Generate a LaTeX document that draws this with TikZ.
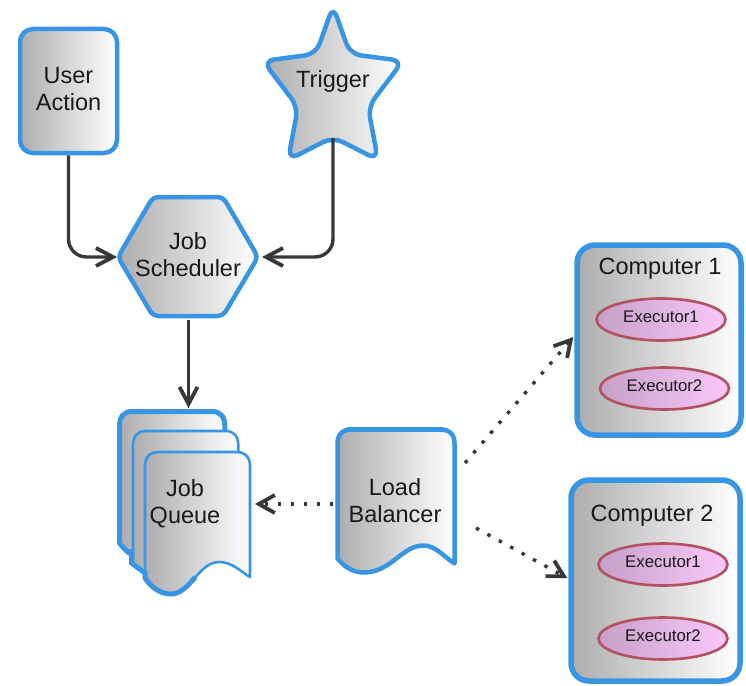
\documentclass[tikz,border=0pt]{standalone}
\usepackage{fontspec}
\setmainfont{Liberation Sans}
\usetikzlibrary{arrows.meta,shapes.geometric}
\definecolor{edgeblue}{HTML}{3895E4}
\definecolor{ink}{HTML}{18191C}
\definecolor{linegray}{HTML}{383838}
\definecolor{steel}{HTML}{ADADAD}
\definecolor{rosedge}{HTML}{B0525F}
\definecolor{mauve}{HTML}{C69FC8}
\definecolor{pinkish}{HTML}{FAC8FA}
\newcommand{\docoutline}{(0,129) -- (0,14) .. controls (0,5) and (5,0) .. (14,0) -- (103,0) .. controls (112,0) and (117,5) .. (117,14) -- (117,134) .. controls (106,127) and (98,116) .. (86,116) .. controls (64,116) and (54,143) .. (26,143) .. controls (14,143) and (6,136) .. cycle}
\tikzset{
  box/.style={left color=steel,right color=white,draw=edgeblue,line width=4.5pt,line join=round},
  caption/.style={text=ink,align=center,inner sep=0pt,font=\fontsize{23.5}{27}\selectfont},
  compbox/.style={box,line width=5.5pt,rounded corners=18pt,minimum width=164pt,inner sep=0pt},
  exec/.style={ellipse,draw=rosedge,line width=2.6pt,left color=mauve,right color=pinkish,minimum width=129pt,minimum height=42pt,inner sep=0pt,text=ink,text depth=5pt,font=\fontsize{16.8}{20}\selectfont},
  flow/.style={draw=linegray,line width=3.4pt,rounded corners=18pt,-{Straight Barb[length=17pt,width=18pt,line width=3.8pt]}},
  dotflow/.style={draw=linegray,line width=3.4pt,dash pattern=on 3.5pt off 9.5pt,-{Straight Barb[length=16pt,width=18pt,line width=3.8pt]}}
}
\begin{document}
\begin{tikzpicture}[x=1pt,y=-1pt]
\useasboundingbox (0,0) rectangle (746,685);
% shapes
\node[box,rounded corners=13pt,minimum width=97pt,minimum height=124pt,inner sep=0pt] (user) at (68.5,91) {};
\path[box,rounded corners=11pt] (333,6) -- (350,54) -- (403,61) -- (368,107) -- (378,160) -- (333,137) -- (288,160) -- (298,107) -- (263,61) -- (316,54) -- cycle;
\path[box,rounded corners=5pt] (118,257) -- (153,197) -- (223,197) -- (258,257) -- (223,316) -- (153,316) -- cycle;
% job queue stack
\path[box,line width=5pt,shift={(119.5,411.5)},xscale=0.9,yscale=1.02] \docoutline;
\path[box,line width=2.6pt,shift={(133,431)},xscale=0.9,yscale=1.02] \docoutline;
\path[draw=edgeblue,line width=5pt] (131.5,549) -- (131.5,563) -- (145,573);
\path[box,line width=2.6pt] (145,578) -- (145,466) .. controls (145,457) and (150,452) .. (159,452) -- (236,452) .. controls (245,452) and (250,457) .. (250,466) -- (250,577) .. controls (240,571) and (232,562) .. (219,562) .. controls (199,562) and (190,594) .. (171,594) .. controls (160,594) and (151,587) .. cycle;
\path[draw=edgeblue,line width=5pt,line cap=round] (145,572) -- (145,578) .. controls (151,587) and (160,594) .. (171,594) .. controls (180.5,594) and (187.5,586) .. (194.6,578);
% load balancer
\path[box,shift={(337.5,429.5)}] \docoutline;
\path[draw=edgeblue,line width=5.5pt] (347,429.5) -- (444,429.5);
% computers
\node[compbox,minimum height=190pt] (c1) at (659,340) {};
\node[compbox,minimum width=169pt,minimum height=201pt] (c2) at (655.5,580.5) {};
\node[exec] (e11) at (661,319.5) {Executor1};
\node[exec] (e12) at (664.5,388.5) {Executor2};
\node[exec] (e21) at (663,564.5) {Executor1};
\node[exec] (e22) at (663,638.5) {Executor2};
% captions
\node[caption] (usertext) at (68.5,89) {User\\Action};
\node[caption] (trigtext) at (333,81.5) {Trigger};
\node[caption] (schedtext) at (188,255) {Job\\Scheduler};
\node[caption] (queuetext) at (185,503.5) {Job\\Queue};
\node[caption] (lbtext) at (395,500.5) {Load\\Balancer};
\node[caption] (c1text) at (660,269) {Computer 1};
\node[caption] (c2text) at (652,516) {Computer 2};
% connection points on drawn outlines
\coordinate (trigfoot) at (333,138);
\coordinate (schedW) at (117,257);
\coordinate (schedE) at (262,257);
\coordinate (schedS) at (188.5,320);
\coordinate (queueN) at (188.5,408);
\coordinate (queueE) at (255,504);
\coordinate (lbW) at (333,504);
\coordinate (lbNE) at (465,463);
\coordinate (lbSE) at (476,528);
% connectors
\draw[flow] (user.south) |- (schedW);
\draw[flow] (trigfoot) |- (schedE);
\draw[flow] (schedS) -- (queueN);
\draw[dotflow] (lbW) -- (queueE);
\draw[dotflow] (lbNE) -- ([xshift=-1pt,yshift=3pt]c1.west);
\draw[dotflow] (lbSE) -- ([xshift=-1pt,yshift=2.5pt]c2.west);
\end{tikzpicture}
\end{document}
